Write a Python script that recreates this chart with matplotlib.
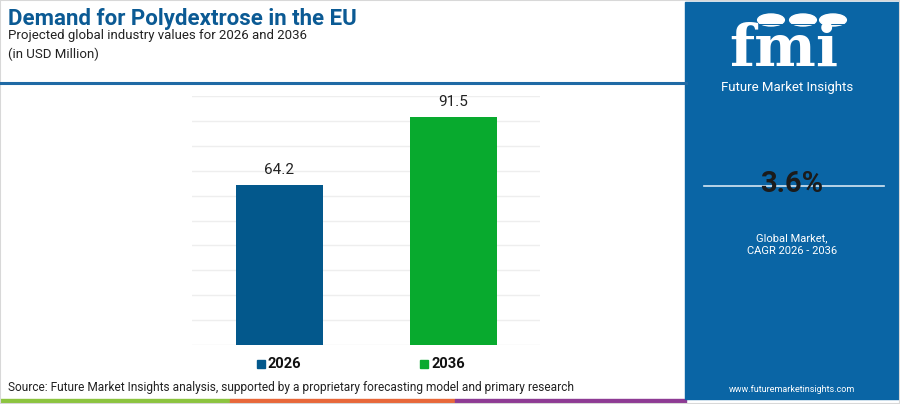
import numpy as np
import matplotlib
matplotlib.use('Agg')
import matplotlib.pyplot as plt
from matplotlib.patches import Rectangle, Circle
from matplotlib.lines import Line2D

# chart data
years = ['2026', '2036']
values = [64.2, 91.5]
bar_colors = ['#03588c', '#08aa2e']
cagr = '3.6%'

title = 'Demand for Polydextrose in the EU'
subtitle = 'Projected global industry values for 2026 and 2036'
unit_note = '(in USD Million)'
source = ('Source: Future Market Insights analysis, supported by a proprietary '
          'forecasting model and primary research')

W, H = 900, 404
plt.rcParams['font.family'] = ['Roboto', 'DejaVu Sans']

fig = plt.figure(figsize=(W / 100, H / 100), dpi=100)
fig.patch.set_facecolor('white')


def fx(x):
    return x / W


def fy(y):
    return 1 - y / H


# 1) Header
fig.text(fx(8), fy(19), title, fontsize=16, fontweight='bold',
         color='#0b5a94', va='center', ha='left')
fig.text(fx(8), fy(35), subtitle, fontsize=9.5, color='#222222',
         va='center', ha='left')
fig.text(fx(8), fy(54), unit_note, fontsize=9.5, color='#222222',
         va='center', ha='left')
fig.add_artist(Line2D([0, fx(686)], [fy(83), fy(83)], color='#1f6aa5',
                      lw=2.2, transform=fig.transFigure))

# 2) Bar chart
ax = fig.add_axes([fx(192), fy(345), fx(540) - fx(192), fy(96) - fy(345)])
x = np.arange(len(years))
bars = ax.bar(x, values, width=0.5, color=bar_colors, zorder=3)
ax.set_xlim(-0.5, 1.5)
ax.set_ylim(0, 100)
ax.set_yticks(np.arange(0, 101, 10))
ax.yaxis.grid(True, color='#eeeeee', lw=1, zorder=0)
ax.set_xticks([])
ax.tick_params(left=False, labelleft=False)
for s in ax.spines.values():
    s.set_visible(False)
for b, v in zip(bars, values):
    ax.annotate(f'{v:.1f}', (b.get_x() + b.get_width() / 2, v),
                xytext=(0, 6), textcoords='offset points',
                ha='center', va='bottom', fontsize=11, color='#222222')

# legend
leg_x = [257, 420]
for lx, yr, c in zip(leg_x, years, bar_colors):
    fig.add_artist(Rectangle((fx(lx), fy(368)), fx(8), 8 / H, color=c,
                             transform=fig.transFigure))
    fig.text(fx(lx + 11), fy(364), yr, fontsize=10.5, fontweight='bold',
             color='#111111', va='center', ha='left')

# source + colour strip
fig.text(fx(8), fy(388), source, fontsize=8.6, color='#222222',
         va='center', ha='left')
for x0, x1, c in [(0, 230, '#8cc43f'), (230, 455, '#e8683a'),
                  (455, 686, '#8e3b94')]:
    fig.add_artist(Rectangle((fx(x0), 0), fx(x1 - x0), 5 / H, color=c,
                             transform=fig.transFigure))

# 3) Right panel
fig.add_artist(Rectangle((fx(685), fy(399)), fx(215), 397 / H,
                         color='#0a65a5', transform=fig.transFigure))
fig.text(fx(784), fy(66), 'fmi', fontsize=42, fontweight='bold',
         family='DejaVu Serif', color='white', ha='center', va='baseline')
for yy in np.arange(24, 68, 3.2):
    fig.add_artist(Line2D([fx(716), fx(856)], [fy(yy), fy(yy)],
                          color='#0a65a5', lw=0.7, transform=fig.transFigure))
for cx in [771, 803, 833]:
    fig.add_artist(Circle((fx(cx), fy(20)), 6 / H, color='white',
                          transform=fig.transFigure))
fig.text(fx(787), fy(87), 'Future Market Insights', fontsize=9.5,
         color='white', ha='center', va='center')

fig.add_artist(Line2D([fx(704), fx(884)], [fy(186), fy(186)],
                      color='#d6e6f3', lw=1.2, transform=fig.transFigure))
fig.text(fx(792), fy(184), cagr, fontsize=21, fontweight='bold',
         color='#1b1b1b', ha='center', va='center')
fig.text(fx(792), fy(238), 'Global Market,', fontsize=8, color='white',
         ha='center', va='center')
fig.text(fx(792), fy(251), 'CAGR 2026 - 2036', fontsize=8, color='white',
         ha='center', va='center')
fig.text(fx(792), fy(389), 'www.futuremarketinsights.com', fontsize=6.5,
         color='white', ha='center', va='center')

# thin frame
fig.add_artist(Rectangle((0, 0), 1, 1, fill=False, ec='#d8d8d8', lw=1.5,
                         transform=fig.transFigure))

fig.savefig('out.png', dpi=100)
